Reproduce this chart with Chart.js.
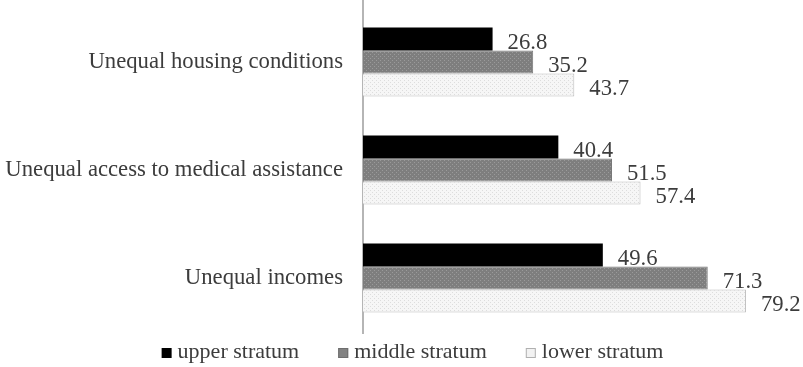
<!DOCTYPE html>
<html>
<head>
<meta charset="utf-8">
<script src="https://cdn.jsdelivr.net/npm/chart.js@4.4.1/dist/chart.umd.min.js"></script>
<style>
  html, body { margin: 0; padding: 0; background: #ffffff; }
  #wrap { width: 803px; height: 367px; position: relative; }
</style>
</head>
<body>
<div id="wrap"><canvas id="c"></canvas></div>
<script>
// Share of respondents naming each inequality, by social stratum (%)
const categories = ['Unequal housing conditions', 'Unequal access to medical assistance', 'Unequal incomes'];
const seriesNames = ['upper stratum', 'middle stratum', 'lower stratum'];
const upperStratum = [26.8, 40.4, 49.6];
const middleStratum = [35.2, 51.5, 71.3];
const lowerStratum = [43.7, 57.4, 79.2];

const FONT = "'Liberation Serif', 'Times New Roman', serif";
const TEXT_COLOR = '#3c3c3c';
const FONT_SIZE = 22;
const TICK_FONT_SIZE = 22.7;

// Small dotted fills for the textured bars
function dotPattern(bg, dot) {
  const c = document.createElement('canvas');
  c.width = 4; c.height = 4;
  const g = c.getContext('2d');
  g.fillStyle = bg; g.fillRect(0, 0, 4, 4);
  g.fillStyle = dot;
  g.fillRect(0, 0, 1, 1);
  g.fillRect(2, 2, 1, 1);
  return g.createPattern(c, 'repeat');
}
const middleFill = dotPattern('#7e7e7e', '#9a9a9a');
const lowerFill = dotPattern('#f6f6f6', '#dddddd');

// Value labels written just past the end of each bar
const valueLabels = {
  id: 'valueLabels',
  afterDatasetsDraw(chart) {
    const ctx = chart.ctx;
    ctx.save();
    ctx.font = TICK_FONT_SIZE + 'px ' + FONT;
    ctx.fillStyle = TEXT_COLOR;
    ctx.textAlign = 'left';
    ctx.textBaseline = 'alphabetic';
    chart.data.datasets.forEach((ds, i) => {
      chart.getDatasetMeta(i).data.forEach((bar, j) => {
        ctx.fillText(ds.data[j].toFixed(1), bar.x + 15, bar.y + 10);
      });
    });
    ctx.restore();
  }
};

// Vertical category axis line, from the top edge to just below the plot
const axisLine = {
  id: 'axisLine',
  beforeDatasetsDraw(chart) {
    const { ctx, chartArea } = chart;
    ctx.save();
    ctx.strokeStyle = '#b5b5b5';
    ctx.lineWidth = 2;
    ctx.beginPath();
    ctx.moveTo(chartArea.left, 0);
    ctx.lineTo(chartArea.left, chartArea.bottom + 2);
    ctx.stroke();
    ctx.restore();
  }
};

// Legend row under the plot: small square swatch, then the series name
const legendRow = {
  id: 'legendRow',
  afterDraw(chart) {
    const ctx = chart.ctx;
    const box = 10, gap = 6, spacing = 39;
    ctx.save();
    ctx.font = FONT_SIZE + 'px ' + FONT;
    ctx.textBaseline = 'alphabetic';
    ctx.textAlign = 'left';
    const items = chart.data.datasets.map(ds => ({ ds, w: ctx.measureText(ds.label).width }));
    const total = items.reduce((s, it) => s + box + gap + it.w, 0) + spacing * (items.length - 1);
    let x = chart.width / 2 + 11 - total / 2;
    const baseline = chart.chartArea.bottom + 26;
    items.forEach(({ ds, w }) => {
      const top = baseline - box;
      ctx.fillStyle = ds.legendSwatch;
      ctx.fillRect(x, top, box, box);
      if (ds.legendEdge) {
        ctx.strokeStyle = ds.legendEdge;
        ctx.lineWidth = 1;
        ctx.strokeRect(x + 0.5, top + 0.5, box - 1, box - 1);
      }
      ctx.fillStyle = TEXT_COLOR;
      ctx.fillText(ds.label, x + box + gap, baseline);
      x += box + gap + w + spacing;
    });
    ctx.restore();
  }
};

new Chart(document.getElementById('c'), {
  type: 'bar',
  data: {
    labels: categories,
    datasets: [
      { label: seriesNames[0], data: upperStratum, backgroundColor: '#000000', borderWidth: 0,
        legendSwatch: '#000000' },
      { label: seriesNames[1], data: middleStratum, backgroundColor: middleFill, borderColor: '#787878', borderWidth: 1,
        legendSwatch: '#828282', legendEdge: '#6e6e6e' },
      { label: seriesNames[2], data: lowerStratum, backgroundColor: lowerFill, borderColor: '#bbbbbb', borderWidth: 1,
        legendSwatch: '#f2f2f2', legendEdge: '#b0b0b0' }
    ]
  },
  options: {
    indexAxis: 'y',
    responsive: true,
    maintainAspectRatio: false,
    animation: false,
    layout: { padding: { top: 8, right: 0, bottom: 35, left: 0 } },
    datasets: { bar: { barPercentage: 1.0, categoryPercentage: 0.64 } },
    scales: {
      x: { display: false, min: 0, max: 91 },
      y: {
        grid: { display: false, drawTicks: false },
        border: { display: false },
        ticks: { color: TEXT_COLOR, padding: 20, font: { family: FONT, size: TICK_FONT_SIZE } },
        afterFit(scale) {
          scale.width = 363;
          scale.paddingTop = 0;
          scale.paddingBottom = 0;
        }
      }
    },
    plugins: { legend: { display: false }, tooltip: { enabled: false } }
  },
  plugins: [axisLine, valueLabels, legendRow]
});
</script>
</body>
</html>
